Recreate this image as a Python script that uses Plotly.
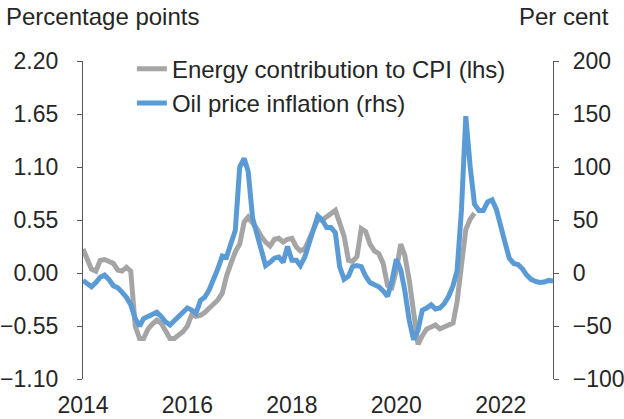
import plotly.graph_objects as go
import pandas as pd

# monthly, starting Jan 2014
energy_contribution = [
    0.25, 0.15, 0.04, 0.02, 0.13, 0.14, 0.12, 0.10, 0.03, 0.02, 0.06, 0.02,
    -0.55, -0.68, -0.68, -0.58, -0.53, -0.49, -0.52, -0.60, -0.68, -0.68, -0.65, -0.61,
    -0.55, -0.43, -0.45, -0.44, -0.41, -0.37, -0.32, -0.28, -0.21, -0.03, 0.10, 0.22,
    0.30, 0.53, 0.58, 0.52, 0.46, 0.38, 0.32, 0.28, 0.35, 0.36, 0.32, 0.35,
    0.36, 0.27, 0.23, 0.25, 0.34, 0.45, 0.55, 0.55, 0.58, 0.62, 0.65, 0.52,
    0.38, 0.13, 0.12, 0.17, 0.46, 0.43, 0.30, 0.23, 0.20, 0.10, -0.13, -0.15,
    0.03, 0.30, 0.18, -0.08, -0.45, -0.74, -0.65, -0.58, -0.56, -0.54, -0.58, -0.56,
    -0.54, -0.52, -0.30, 0.05, 0.45, 0.56, 0.62,
]

oil_inflation = [
    -7, -10, -13, -9, -4, -2, -6, -12, -14, -18, -23, -30,
    -43, -50, -43, -41, -39, -37, -41, -46, -49, -45, -42, -38,
    -33, -35, -38, -26, -23, -16, -7, 4, 16, 15, 28, 40,
    100, 108, 96, 52, 37, 20, 7, 10, 14, 15, 10, 25,
    12, 12, 7, 15, 28, 42, 54, 50, 43, 43, 38, 6,
    -6, -3, 6, 7, 6, -3, -9, -11, -13, -17, -22, -8,
    13, 3, -17, -45, -63, -54, -35, -33, -30, -34, -33, -29,
    -22, -12, 2, 60, 148, 100, 65, 59, 59, 67, 69, 60,
    42, 28, 14, 9, 8, 4, -2, -6, -8, -9, -8.5, -7,
    -7.5,
]

months = pd.date_range("2014-01-01", periods=len(oil_inflation), freq="MS")
year_ticks = pd.to_datetime(["2014-01-01", "2016-01-01", "2018-01-01", "2020-01-01", "2022-01-01"])
lhs_ticks = [-1.10, -0.55, 0.00, 0.55, 1.10, 1.65, 2.20]
rhs_ticks = [-100, -50, 0, 50, 100, 150, 200]

GRAY = "#A5A5A5"
BLUE = "#5B9BD5"
AXIS = "#595959"
TEXT = "#262626"
FONT = "Liberation Sans, Arial, sans-serif"

fig = go.Figure()

fig.add_trace(go.Scatter(
    x=months[:len(energy_contribution)], y=energy_contribution,
    mode="lines", name="Energy contribution to CPI (lhs)",
    legendgroup="a",
    line=dict(color=GRAY, width=5),
))

fig.add_trace(go.Scatter(
    x=months, y=oil_inflation,
    mode="lines", name="Oil price inflation (rhs)",
    legendgroup="b", yaxis="y2",
    line=dict(color=BLUE, width=5),
))

x_range = ["2014-01-01", "2023-01-01"]
tick_style = dict(ticks="outside", ticklen=5, tickcolor=AXIS, tickwidth=1.3,
                  showline=True, linecolor=AXIS, linewidth=1.3)

fig.update_layout(
    width=624, height=419,
    margin=dict(l=83, r=71, t=61, b=40),
    paper_bgcolor="white", plot_bgcolor="white",
    font=dict(family=FONT, size=23, color=TEXT),
    showlegend=True,
    legend=dict(
        x=0.104, y=1.045, xanchor="left", yanchor="top",
        bgcolor="rgba(0,0,0,0)", borderwidth=0,
        traceorder="grouped", tracegroupgap=0,
        font=dict(size=24, color=TEXT),
    ),
    xaxis=dict(
        type="date", range=x_range,
        tickvals=year_ticks, tickformat="%Y",
        showline=False, showgrid=False, zeroline=False,
        ticks="", ticklabelstandoff=10, automargin=False,
    ),
    # axis line along zero with the year tick marks
    xaxis2=dict(
        type="date", range=x_range, overlaying="x",
        anchor="free", position=1 / 3, side="bottom",
        tickvals=year_ticks, showticklabels=False,
        showgrid=False, zeroline=False, automargin=False,
        **tick_style,
    ),
    yaxis=dict(
        range=[-1.10, 2.20], tickvals=lhs_ticks, tickformat=".2f",
        showgrid=False, zeroline=False, ticklabelstandoff=14,
        automargin=False, **tick_style,
    ),
    yaxis2=dict(
        range=[-100, 200], tickvals=rhs_ticks,
        overlaying="y", side="right",
        showgrid=False, zeroline=False, ticklabelstandoff=9,
        automargin=False, **tick_style,
    ),
    annotations=[
        dict(text="Percentage points", xref="paper", yref="paper",
             x=-0.168, y=1.14, xanchor="left", yanchor="middle",
             showarrow=False, font=dict(size=24, color=TEXT)),
        dict(text="Per cent", xref="paper", yref="paper",
             x=1.123, y=1.14, xanchor="right", yanchor="middle",
             showarrow=False, font=dict(size=24, color=TEXT)),
    ],
)

# the page's default body margin would shift the figure by 8px
fig.write_html("out.html", config={"displayModeBar": False},
               post_script="document.body.style.margin = '0';")
